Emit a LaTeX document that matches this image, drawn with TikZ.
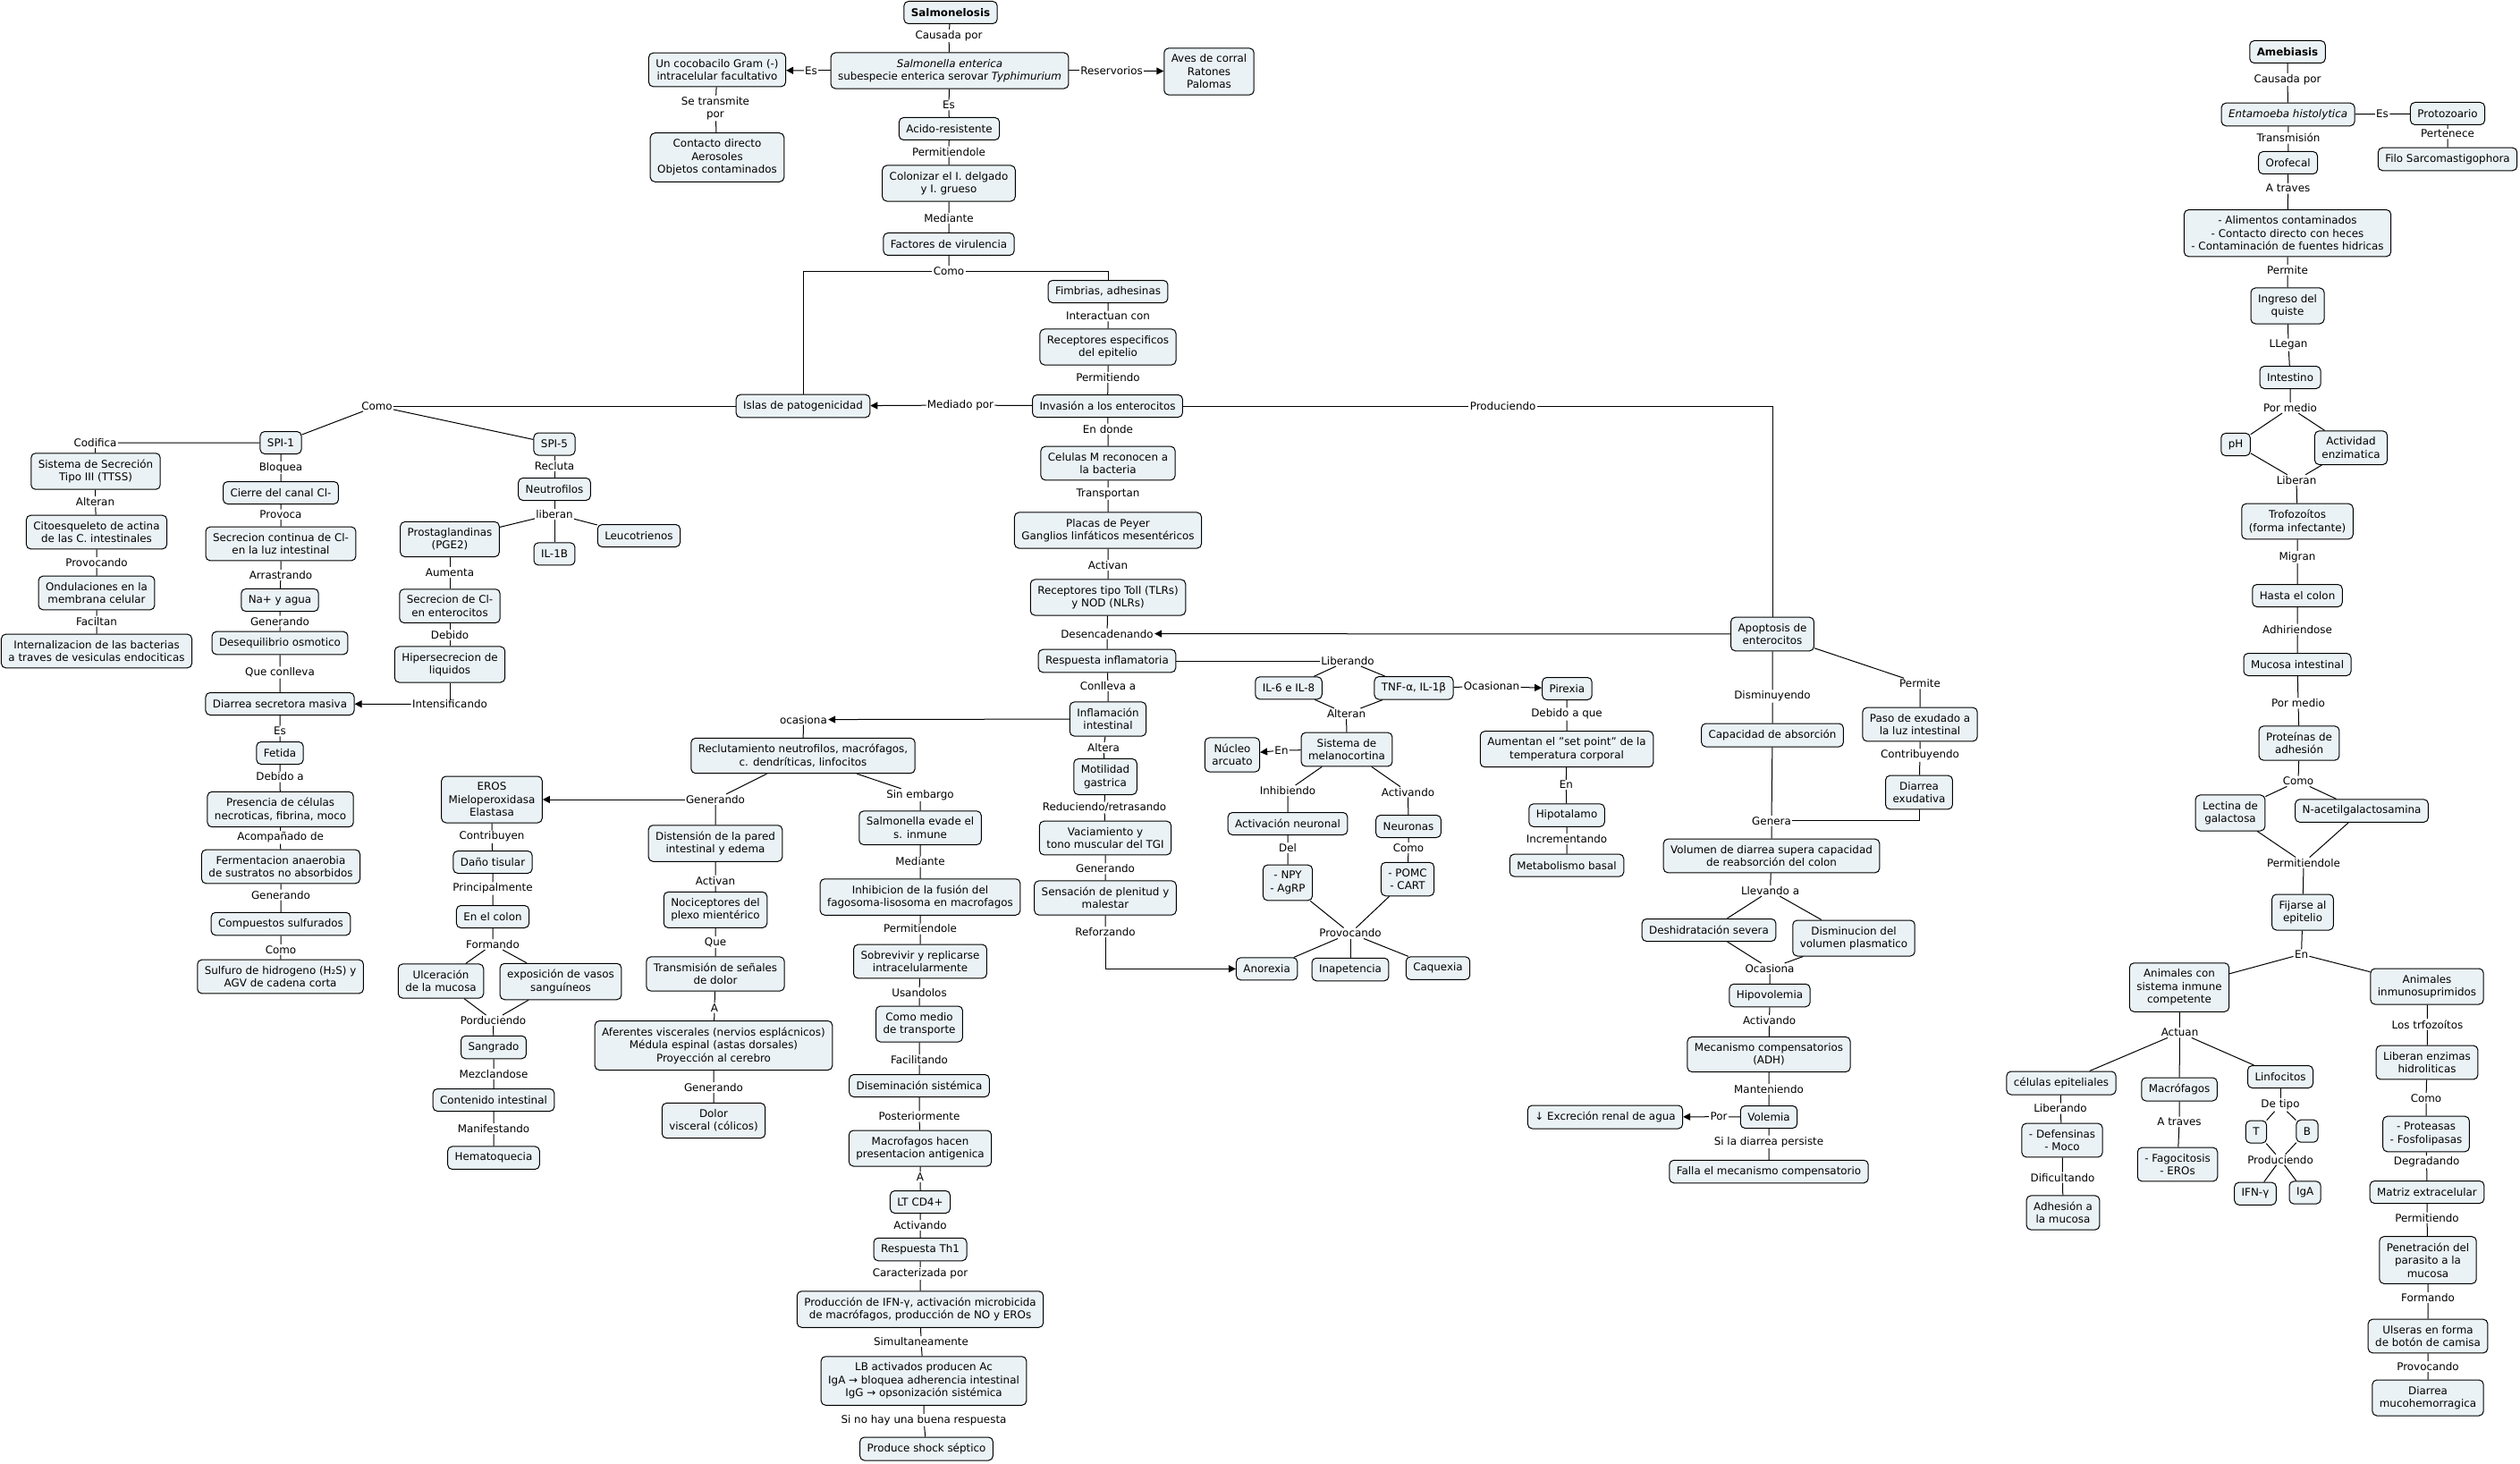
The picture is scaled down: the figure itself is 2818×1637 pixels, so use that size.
\documentclass[tikz,border=0pt]{standalone}
\usepackage{fontspec}
\setmainfont{DejaVu Sans}
\usetikzlibrary{arrows.meta}
\definecolor{boxfill}{RGB}{235,242,245}
\tikzset{
  box/.style={draw, line width=1pt, rounded corners=5pt, fill=boxfill, align=center,
    inner xsep=8pt, inner ysep=7pt, minimum height=25pt, font=\fontsize{11.9}{14.5}\selectfont},
  lbl/.style={inner sep=1.2pt, align=center, font=\fontsize{11.9}{14.5}\selectfont},
  ln/.style={line width=1pt},
  arr/.style={line width=1pt, -{Triangle[length=8pt,width=8pt]}}
}
\begin{document}
\begin{tikzpicture}[x=1pt,y=-1pt]
\fill[white] (0,0) rectangle (2818,1637);
\path[use as bounding box] (0,0) rectangle (2818,1637);

% ===== Salmonelosis: top =====
\node[box] (salm) at (1063,14) {\textbf{Salmonelosis}};
\node[lbl] (l_caus) at (1061,40) {Causada por};
\node[box] (senter) at (1062,79) {\textit{Salmonella enterica}\\subespecie enterica serovar \textit{Typhimurium}};
\node[lbl] (l_es1) at (907,79) {Es};
\node[box] (cocob) at (802,78) {Un cocobacilo Gram (-)\\intracelular facultativo};
\node[lbl] (l_setr) at (800,121) {Se transmite\\por};
\node[box] (contacto) at (802,176) {Contacto directo\\Aerosoles\\Objetos contaminados};
\node[lbl] (l_reserv) at (1243,79) {Reservorios};
\node[box] (aves) at (1352,80) {Aves de corral\\Ratones\\Palomas};
\node[lbl] (l_es2) at (1061,117.5) {Es};
\node[box] (acido) at (1061.5,144) {Acido-resistente};
\node[lbl] (l_perm1) at (1061,169.6) {Permitiendole};
\node[box] (coloniz) at (1061,205) {Colonizar el I. delgado\\y I. grueso};
\node[lbl] (l_med1) at (1061,244) {Mediante};
\node[box] (factores) at (1061,273) {Factores de virulencia};
\node[lbl] (l_como1) at (1061,303) {Como};
\node[box] (fimbrias) at (1239,326) {Fimbrias, adhesinas};
\node[lbl] (l_inter) at (1239,353.5) {Interactuan con};
\node[box] (recesp) at (1239,388) {Receptores especificos\\del epitelio};
\node[lbl] (l_permdo1) at (1239,422) {Permitiendo};
\node[box] (invasion) at (1238.5,454) {Invasión a los enterocitos};
\node[lbl] (l_mediado) at (1074,453) {Mediado por};
\node[box] (islas) at (898,454) {Islas de patogenicidad};
\node[lbl] (l_endonde) at (1239,479.6) {En donde};
\node[box] (celm) at (1239,518) {Celulas M reconocen a\\la bacteria};
\node[lbl] (l_transp) at (1239,552) {Transportan};
\node[box] (placas) at (1239,593) {Placas de Peyer\\Ganglios linfáticos mesentéricos};
\node[lbl] (l_activan1) at (1239,632) {Activan};
\node[box] (toll) at (1239,668) {Receptores tipo Toll (TLRs)\\y NOD (NLRs)};
\node[lbl] (l_desenc) at (1238,708.6) {Desencadenando};
\node[box] (respinf) at (1238,739) {Respuesta inflamatoria};
\node[lbl] (l_conlleva) at (1239,767) {Conlleva a};
\node[box] (inflam) at (1239,804) {Inflamación\\intestinal};
\node[lbl] (l_altera) at (1234,836) {Altera};
\node[box] (motil) at (1236,868.5) {Motilidad\\gastrica};
\node[lbl] (l_reduc) at (1235,903) {Reduciendo/retrasando};
\node[box] (vaciam) at (1236,937) {Vaciamiento y\\tono muscular del TGI};
\node[lbl] (l_gen3) at (1236,971.4) {Generando};
\node[box] (sensac) at (1236,1004) {Sensación de plenitud y\\malestar};
\node[lbl] (l_reforz) at (1236,1042) {Reforzando};
\node[lbl] (l_ocasiona) at (898.4,804.6) {ocasiona};
\node[box] (reclut) at (898,845) {Reclutamiento neutrofilos, macrófagos,\\c. dendríticas, linfocitos};
\node[lbl] (l_gen4) at (800,894) {Generando};
\node[lbl] (l_sinemb) at (1029,889) {Sin embargo};
\node[box] (disten) at (800,943) {Distensión de la pared\\intestinal y edema};
\node[lbl] (l_activan2) at (800,984.6) {Activan};
\node[box] (nocic) at (800,1017.4) {Nociceptores del\\plexo mientérico};
\node[lbl] (l_que) at (800,1053.5) {Que};
\node[box] (transm) at (800,1089) {Transmisión de señales\\de dolor};
\node[lbl] (l_a1) at (799,1127) {A};
\node[box] (aferen) at (798,1169) {Aferentes viscerales (nervios esplácnicos)\\Médula espinal (astas dorsales)\\Proyección al cerebro};
\node[lbl] (l_gen5) at (798,1216) {Generando};
\node[box] (dolor) at (798,1253) {Dolor\\visceral (cólicos)};
\node[box] (evade) at (1029,925.7) {Salmonella evade el\\s. inmune};
\node[lbl] (l_med2) at (1029,963.5) {Mediante};
\node[box] (inhib) at (1029,1003) {Inhibicion de la fusión del\\fagosoma-lisosoma en macrofagos};
\node[lbl] (l_perm2) at (1029,1038.5) {Permitiendole};
\node[box] (sobrev) at (1029,1075) {Sobrevivir y replicarse\\intracelularmente};
\node[lbl] (l_usand) at (1028,1110) {Usandolos};
\node[box] (comomedio) at (1028,1145) {Como medio\\de transporte};
\node[lbl] (l_facil) at (1028,1185) {Facilitando};
\node[box] (disem) at (1028,1214) {Diseminación sistémica};
\node[lbl] (l_poster) at (1028,1248.4) {Posteriormente};
\node[box] (macpres) at (1029,1284) {Macrofagos hacen\\presentacion antigenica};
\node[lbl] (l_a2) at (1029,1316) {A};
\node[box] (ltcd4) at (1029,1344) {LT CD4+};
\node[lbl] (l_activando1) at (1029,1370) {Activando};
\node[box] (th1) at (1029,1397) {Respuesta Th1};
\node[lbl] (l_caract) at (1029,1424) {Caracterizada por};
\node[box] (prodifn) at (1029,1464) {Producción de IFN-γ, activación microbicida\\de macrófagos, producción de NO y EROs};
\node[lbl] (l_simult) at (1030,1500) {Simultaneamente};
\node[box] (lbact) at (1033,1544) {LB activados producen Ac\\IgA → bloquea adherencia intestinal\\IgG → opsonización sistémica};
\node[lbl] (l_sinohay) at (1033,1588) {Si no hay una buena respuesta};
\node[box] (shock) at (1036,1620) {Produce shock séptico};

% ===== Left part =====
\node[lbl] (l_como2) at (421.5,454) {Como};
\node[box] (spi1) at (314,495) {SPI-1};
\node[lbl] (l_codif) at (106.5,495) {Codifica};
\node[box] (ttss) at (107,527) {Sistema de Secreción\\Tipo III (TTSS)};
\node[lbl] (l_alteran1) at (106.5,561) {Alteran};
\node[box] (citoesq) at (108,595) {Citoesqueleto de actina\\de las C. intestinales};
\node[lbl] (l_provocando1) at (108,629) {Provocando};
\node[box] (ondul) at (108,663) {Ondulaciones en la\\membrana celular};
\node[lbl] (l_facilitan) at (108,694.6) {Faciltan};
\node[box] (intern) at (108,728) {Internalizacion de las bacterias\\a traves de vesiculas endociticas};
\node[lbl] (l_bloquea) at (314,523) {Bloquea};
\node[box] (cierre) at (314,551) {Cierre del canal Cl-};
\node[lbl] (l_provoca) at (314,575.4) {Provoca};
\node[box] (secrcont) at (314,608) {Secrecion continua de Cl-\\en la luz intestinal};
\node[lbl] (l_arrastr) at (314,643) {Arrastrando};
\node[box] (na) at (313,671) {Na+ y agua};
\node[lbl] (l_gen1) at (313,694.6) {Generando};
\node[box] (deseq) at (313,719) {Desequilibrio osmotico};
\node[lbl] (l_queconl) at (313,752) {Que conlleva};
\node[box] (diarrsec) at (313,787) {Diarrea secretora masiva};
\node[lbl] (l_es3) at (313,817.5) {Es};
\node[box] (fetida) at (313,842) {Fetida};
\node[lbl] (l_debidoa1) at (313,868.5) {Debido a};
\node[box] (presencia) at (313.6,905) {Presencia de células\\necroticas, fibrina, moco};
\node[lbl] (l_acomp) at (313.6,936.4) {Acompañado de};
\node[box] (ferment) at (314,969) {Fermentacion anaerobia\\de sustratos no absorbidos};
\node[lbl] (l_gen2) at (314,1000.7) {Generando};
\node[box] (compsulf) at (314,1033) {Compuestos sulfurados};
\node[lbl] (l_como3) at (314,1061.7) {Como};
\node[box] (sulfuro) at (313.6,1092) {Sulfuro de hidrogeno (H₂S) y\\AGV de cadena corta};
\node[box] (spi5) at (620,496.5) {SPI-5};
\node[lbl] (l_recluta) at (620,520.7) {Recluta};
\node[box] (neutro) at (620,547) {Neutrofilos};
\node[lbl] (l_liberan1) at (620,574.6) {liberan};
\node[box] (prosta) at (503,603) {Prostaglandinas\\(PGE2)};
\node[box] (il1b) at (620,619.4) {IL-1B};
\node[box] (leuco) at (714.4,599) {Leucotrienos};
\node[lbl] (l_aumenta) at (503,640.3) {Aumenta};
\node[box] (secrcl) at (503,677.6) {Secrecion de Cl-\\en enterocitos};
\node[lbl] (l_debido) at (503,709.6) {Debido};
\node[box] (hipersec) at (503,743) {Hipersecrecion de\\liquidos};
\node[lbl] (l_intens) at (503,787.5) {Intensificando};
\node[box] (eros) at (550,894) {EROS\\Mieloperoxidasa\\Elastasa};
\node[lbl] (l_contrib) at (550,935.7) {Contribuyen};
\node[box] (dano) at (551,964) {Daño tisular};
\node[lbl] (l_princ) at (551,993.5) {Principalmente};
\node[box] (encolon) at (551,1025) {En el colon};
\node[lbl] (l_formando1) at (551,1056) {Formando};
\node[box] (ulcer) at (493,1097) {Ulceración\\de la mucosa};
\node[box] (exposic) at (627,1097.5) {exposición de vasos\\sanguíneos};
\node[lbl] (l_porduc) at (551.5,1141) {Porduciendo};
\node[box] (sangrado) at (552,1171) {Sangrado};
\node[lbl] (l_mezcl) at (552,1200.8) {Mezclandose};
\node[box] (contenido) at (552,1230) {Contenido intestinal};
\node[lbl] (l_manif) at (552,1262) {Manifestando};
\node[box] (hemato) at (552,1294.7) {Hematoquecia};

% ===== Middle right =====
\node[lbl] (l_produc) at (1680.6,454) {Produciendo};
\node[box] (apop) at (1982,709) {Apoptosis de\\enterocitos};
\node[lbl] (l_liberando1) at (1507,739) {Liberando};
\node[box] (il6) at (1441,769.3) {IL-6 e IL-8};
\node[box] (tnf) at (1581,769.3) {TNF-α, IL-1β};
\node[lbl] (l_ocasionan) at (1668,767.5) {Ocasionan};
\node[box] (pirexia) at (1752.4,770) {Pirexia};
\node[lbl] (l_alteran2) at (1505.6,798) {Alteran};
\node[box] (melano) at (1506,838) {Sistema de\\melanocortina};
\node[lbl] (l_en1) at (1433,839) {En};
\node[box] (nucleo) at (1378,844) {Núcleo\\arcuato};
\node[lbl] (l_inhib) at (1440,884) {Inhibiendo};
\node[lbl] (l_activando2) at (1574.5,885.7) {Activando};
\node[box] (actneur) at (1440,921) {Activación neuronal};
\node[box] (neuronas) at (1575,924) {Neuronas};
\node[lbl] (l_del) at (1440,948) {Del};
\node[lbl] (l_como4) at (1575,948) {Como};
\node[box] (npy) at (1440,987) {- NPY\\- AgRP};
\node[box] (pomc) at (1574,983) {- POMC\\- CART};
\node[lbl] (l_provocando2) at (1510,1043.5) {Provocando};
\node[box] (anorexia) at (1416.6,1083.3) {Anorexia};
\node[box] (inapet) at (1510,1084) {Inapetencia};
\node[box] (caquex) at (1608,1082.6) {Caquexia};
\node[lbl] (l_debidoque) at (1752,798.5) {Debido a que};
\node[box] (aumentan) at (1752,837.7) {Aumentan el "set point" de la\\temperatura corporal};
\node[lbl] (l_en2) at (1751.3,877.5) {En};
\node[box] (hipot) at (1752,911.6) {Hipotalamo};
\node[lbl] (l_increm) at (1752,938.2) {Incrementando};
\node[box] (metab) at (1752,967.6) {Metabolismo basal};
\node[lbl] (l_disminuy) at (1982,778.5) {Disminuyendo};
\node[box] (capac) at (1982,822) {Capacidad de absorción};
\node[lbl] (l_genera) at (1981,917.8) {Genera};
\node[box] (volumen) at (1981,957) {Volumen de diarrea supera capacidad\\de reabsorción del colon};
\node[lbl] (l_permite1) at (2147,764.3) {Permite};
\node[box] (paso) at (2147,810) {Paso de exudado a\\la luz intestinal};
\node[lbl] (l_contribuy) at (2147,844.6) {Contribuyendo};
\node[box] (dexud) at (2146,886) {Diarrea\\exudativa};
\node[lbl] (l_llevando) at (1979.5,996) {Llevando a};
\node[box] (deshid) at (1911,1040) {Deshidratación severa};
\node[box] (dismin) at (2073,1049) {Disminucion del\\volumen plasmatico};
\node[lbl] (l_ocasiona2) at (1979,1083) {Ocasiona};
\node[box] (hipovol) at (1979,1113) {Hipovolemia};
\node[lbl] (l_activando3) at (1978.6,1141) {Activando};
\node[box] (mecan) at (1978,1179) {Mecanismo compensatorios\\(ADH)};
\node[lbl] (l_mant) at (1978,1217.8) {Manteniendo};
\node[box] (volemia) at (1978,1249) {Volemia};
\node[lbl] (l_por) at (1922,1248.7) {Por};
\node[box] (excrec) at (1795,1249) {↓ Excreción renal de agua};
\node[lbl] (l_sila) at (1978,1276.8) {Si la diarrea persiste};
\node[box] (falla) at (1978,1310) {Falla el mecanismo compensatorio};

% ===== Amebiasis =====
\node[box] (ameb) at (2558,58) {\textbf{Amebiasis}};
\node[lbl] (l_caus2) at (2558,89) {Causada por};
\node[box] (entam) at (2558.6,128) {\textit{Entamoeba histolytica}};
\node[lbl] (l_es4) at (2664,127.5) {Es};
\node[box] (protoz) at (2737,127) {Protozoario};
\node[lbl] (l_pertenece) at (2737,149.6) {Pertenece};
\node[box] (filo) at (2737,178) {Filo Sarcomastigophora};
\node[lbl] (l_transmision) at (2559,154.3) {Transmisión};
\node[box] (orofecal) at (2558.6,182) {Orofecal};
\node[lbl] (l_atraves1) at (2558.6,210.7) {A traves};
\node[box] (alim) at (2558,260.7) {- Alimentos contaminados\\- Contacto directo con heces\\- Contaminación de fuentes hidricas};
\node[lbl] (l_permite2) at (2558,301.8) {Permite};
\node[box] (ingreso) at (2558,342) {Ingreso del\\quiste};
\node[lbl] (l_llegan) at (2559,385.7) {LLegan};
\node[box] (intestino) at (2561,422) {Intestino};
\node[lbl] (l_pormedio1) at (2561,456) {Por medio};
\node[box] (ph) at (2500,497) {pH};
\node[box] (actenz) at (2629,500.7) {Actividad\\enzimatica};
\node[lbl] (l_liberan2) at (2568,536.8) {Liberan};
\node[box] (trofo) at (2569,583) {Trofozoítos\\(forma infectante)};
\node[lbl] (l_migran) at (2569,623) {Migran};
\node[box] (hasta) at (2569,666) {Hasta el colon};
\node[lbl] (l_adhir) at (2569,703.6) {Adhiriendose};
\node[box] (mucosa) at (2569,743) {Mucosa intestinal};
\node[lbl] (l_pormedio2) at (2570,786.4) {Por medio};
\node[box] (proteinas) at (2571,831) {Proteínas de\\adhesión};
\node[lbl] (l_como5) at (2570,873.5) {Como};
\node[box] (lectina) at (2494,909) {Lectina de\\galactosa};
\node[box] (nacetil) at (2641,906.6) {N-acetilgalactosamina};
\node[lbl] (l_permitiendole3) at (2576,964.6) {Permitiendole};
\node[box] (fijarse) at (2575,1020) {Fijarse al\\epitelio};
\node[lbl] (l_en3) at (2573.5,1067) {En};
\node[box] (animcomp) at (2437,1104) {Animales con\\sistema inmune\\competente};
\node[box] (animinm) at (2714,1103) {Animales\\inmunosuprimidos};
\node[lbl] (l_actuan) at (2437.5,1154.6) {Actuan};
\node[box] (celep) at (2305,1211) {células epiteliales};
\node[box] (macrof) at (2437,1218) {Macrófagos};
\node[box] (linfoc) at (2550,1204) {Linfocitos};
\node[lbl] (l_liberando2) at (2304,1239.5) {Liberando};
\node[box] (defens) at (2306,1275) {- Defensinas\\- Moco};
\node[lbl] (l_dific) at (2306.5,1316.6) {Dificultando};
\node[box] (adhesion) at (2307,1356) {Adhesión a\\la mucosa};
\node[lbl] (l_atraves2) at (2437,1254.4) {A traves};
\node[box] (fagoc) at (2435,1302) {- Fagocitosis\\- EROs};
\node[lbl] (l_detipo) at (2550,1235.6) {De tipo};
\node[box] (tnode) at (2523,1265.6) {T};
\node[box] (bnode) at (2580,1264.7) {B};
\node[lbl] (l_producien2) at (2550,1296.7) {Produciendo};
\node[box] (ifng) at (2522,1334.7) {IFN-γ};
\node[box] (iga) at (2577.6,1333.5) {IgA};
\node[lbl] (l_lostrf) at (2714.5,1145.4) {Los trfozoítos};
\node[box] (liberenz) at (2714,1188) {Liberan enzimas\\hidroliticas};
\node[lbl] (l_como6) at (2713,1227.8) {Como};
\node[box] (proteasas) at (2713,1268) {- Proteasas\\- Fosfolipasas};
\node[lbl] (l_degrad) at (2713.6,1299.2) {Degradando};
\node[box] (matriz) at (2714,1333) {Matriz extracelular};
\node[lbl] (l_permdo2) at (2714,1361.7) {Permitiendo};
\node[box] (penetr) at (2715,1409) {Penetración del\\parasito a la\\mucosa};
\node[lbl] (l_formando2) at (2715,1450.8) {Formando};
\node[box] (ulseras) at (2715,1494) {Ulseras en forma\\de botón de camisa};
\node[lbl] (l_provocando3) at (2715,1528) {Provocando};
\node[box] (diarrmuco) at (2715,1563) {Diarrea\\mucohemorragica};

% ===== Connectors: Salmonelosis =====
\draw[ln] (salm) -- (l_caus) -- (senter);
\draw[ln] (senter) -- (l_es1);
\draw[arr] (l_es1) -- (cocob);
\draw[ln] (cocob) -- (l_setr) -- (contacto);
\draw[ln] (senter) -- (l_reserv);
\draw[arr] (l_reserv) -- (aves);
\draw[ln] (senter) -- (l_es2) -- (acido) -- (l_perm1) -- (coloniz) -- (l_med1) -- (factores) -- (l_como1);
\draw[ln] (l_como1) -| (islas);
\draw[ln] (l_como1) -| (fimbrias);
\draw[ln] (fimbrias) -- (l_inter) -- (recesp) -- (l_permdo1) -- (invasion);
\draw[ln] (invasion) -- (l_mediado);
\draw[arr] (l_mediado) -- (islas);
\draw[ln] (islas) -- (l_como2);
\draw[ln] (l_como2) -- (spi1);
\draw[ln] (l_como2) -- (spi5);
\draw[ln] (spi1) -- (l_codif) -- (ttss) -- (l_alteran1) -- (citoesq) -- (l_provocando1) -- (ondul) -- (l_facilitan) -- (intern);
\draw[ln] (spi1) -- (l_bloquea) -- (cierre) -- (l_provoca) -- (secrcont) -- (l_arrastr) -- (na) -- (l_gen1) -- (deseq) -- (l_queconl) -- (diarrsec) -- (l_es3) -- (fetida) -- (l_debidoa1) -- (presencia) -- (l_acomp) -- (ferment) -- (l_gen2) -- (compsulf) -- (l_como3) -- (sulfuro);
\draw[ln] (spi5) -- (l_recluta) -- (neutro) -- (l_liberan1);
\draw[ln] (l_liberan1) -- (prosta);
\draw[ln] (l_liberan1) -- (il1b);
\draw[ln] (l_liberan1) -- (leuco);
\draw[ln] (prosta) -- (l_aumenta) -- (secrcl) -- (l_debido) -- (hipersec) -- (l_intens);
\draw[arr] (l_intens) -- (diarrsec);
\draw[ln] (invasion) -- (l_endonde) -- (celm) -- (l_transp) -- (placas) -- (l_activan1) -- (toll) -- (l_desenc) -- (respinf);
\draw[ln] (invasion) -- (l_produc);
\draw[ln] (l_produc) -| (apop);
\draw[arr] (apop) -- (l_desenc);
\draw[ln] (respinf) -- (l_liberando1);
\draw[ln] (l_liberando1) -- (il6);
\draw[ln] (l_liberando1) -- (tnf);
\draw[ln] (il6) -- (l_alteran2);
\draw[ln] (tnf) -- (l_alteran2);
\draw[ln] (l_alteran2) -- (melano);
\draw[ln] (tnf) -- (l_ocasionan);
\draw[arr] (l_ocasionan) -- (pirexia);
\draw[ln] (melano) -- (l_en1);
\draw[arr] (l_en1) -- (nucleo);
\draw[ln] (melano) -- (l_inhib) -- (actneur) -- (l_del) -- (npy);
\draw[ln] (melano) -- (l_activando2) -- (neuronas) -- (l_como4) -- (pomc);
\draw[ln] (npy) -- (l_provocando2);
\draw[ln] (pomc) -- (l_provocando2);
\draw[ln] (l_provocando2) -- (anorexia);
\draw[ln] (l_provocando2) -- (inapet);
\draw[ln] (l_provocando2) -- (caquex);
\draw[ln] (respinf) -- (l_conlleva) -- (inflam) -- (l_altera) -- (motil) -- (l_reduc) -- (vaciam) -- (l_gen3) -- (sensac) -- (l_reforz);
\draw[arr] (l_reforz) |- (anorexia);
\draw[arr] (inflam) -- (l_ocasiona);
\draw[ln] (l_ocasiona) -- (reclut);
\draw[ln] (reclut) -- (l_gen4);
\draw[arr] (l_gen4) -- (eros);
\draw[ln] (l_gen4) -- (disten) -- (l_activan2) -- (nocic) -- (l_que) -- (transm) -- (l_a1) -- (aferen) -- (l_gen5) -- (dolor);
\draw[ln] (reclut) -- (l_sinemb) -- (evade) -- (l_med2) -- (inhib) -- (l_perm2) -- (sobrev) -- (l_usand) -- (comomedio) -- (l_facil) -- (disem) -- (l_poster) -- (macpres) -- (l_a2) -- (ltcd4) -- (l_activando1) -- (th1) -- (l_caract) -- (prodifn) -- (l_simult) -- (lbact) -- (l_sinohay) -- (shock);
\draw[ln] (eros) -- (l_contrib) -- (dano) -- (l_princ) -- (encolon) -- (l_formando1);
\draw[ln] (l_formando1) -- (ulcer);
\draw[ln] (l_formando1) -- (exposic);
\draw[ln] (ulcer) -- (l_porduc);
\draw[ln] (exposic) -- (l_porduc);
\draw[ln] (l_porduc) -- (sangrado) -- (l_mezcl) -- (contenido) -- (l_manif) -- (hemato);
\draw[ln] (pirexia) -- (l_debidoque) -- (aumentan) -- (l_en2) -- (hipot) -- (l_increm) -- (metab);
\draw[ln] (apop) -- (l_disminuy) -- (capac) -- (l_genera) -- (volumen);
\draw[ln] (apop) -- (l_permite1) -- (paso) -- (l_contribuy) -- (dexud);
\draw[ln] (dexud) |- (l_genera);
\draw[ln] (volumen) -- (l_llevando);
\draw[ln] (l_llevando) -- (deshid);
\draw[ln] (l_llevando) -- (dismin);
\draw[ln] (deshid) -- (l_ocasiona2);
\draw[ln] (dismin) -- (l_ocasiona2);
\draw[ln] (l_ocasiona2) -- (hipovol) -- (l_activando3) -- (mecan) -- (l_mant) -- (volemia) -- (l_sila) -- (falla);
\draw[ln] (volemia) -- (l_por);
\draw[arr] (l_por) -- (excrec);

% ===== Connectors: Amebiasis =====
\draw[ln] (ameb) -- (l_caus2) -- (entam) -- (l_transmision) -- (orofecal) -- (l_atraves1) -- (alim) -- (l_permite2) -- (ingreso) -- (l_llegan) -- (intestino) -- (l_pormedio1);
\draw[ln] (entam) -- (l_es4) -- (protoz) -- (l_pertenece) -- (filo);
\draw[ln] (l_pormedio1) -- (ph);
\draw[ln] (l_pormedio1) -- (actenz);
\draw[ln] (ph) -- (l_liberan2);
\draw[ln] (actenz) -- (l_liberan2);
\draw[ln] (l_liberan2) -- (trofo) -- (l_migran) -- (hasta) -- (l_adhir) -- (mucosa) -- (l_pormedio2) -- (proteinas) -- (l_como5);
\draw[ln] (l_como5) -- (lectina);
\draw[ln] (l_como5) -- (nacetil);
\draw[ln] (lectina) -- (l_permitiendole3);
\draw[ln] (nacetil) -- (l_permitiendole3);
\draw[ln] (l_permitiendole3) -- (fijarse) -- (l_en3);
\draw[ln] (l_en3) -- (animcomp);
\draw[ln] (l_en3) -- (animinm);
\draw[ln] (animcomp) -- (l_actuan);
\draw[ln] (l_actuan) -- (celep);
\draw[ln] (l_actuan) -- (macrof);
\draw[ln] (l_actuan) -- (linfoc);
\draw[ln] (celep) -- (l_liberando2) -- (defens) -- (l_dific) -- (adhesion);
\draw[ln] (macrof) -- (l_atraves2) -- (fagoc);
\draw[ln] (linfoc) -- (l_detipo);
\draw[ln] (l_detipo) -- (tnode);
\draw[ln] (l_detipo) -- (bnode);
\draw[ln] (tnode) -- (l_producien2);
\draw[ln] (bnode) -- (l_producien2);
\draw[ln] (l_producien2) -- (ifng);
\draw[ln] (l_producien2) -- (iga);
\draw[ln] (animinm) -- (l_lostrf) -- (liberenz) -- (l_como6) -- (proteasas) -- (l_degrad) -- (matriz) -- (l_permdo2) -- (penetr) -- (l_formando2) -- (ulseras) -- (l_provocando3) -- (diarrmuco);
\end{tikzpicture}
\end{document}
